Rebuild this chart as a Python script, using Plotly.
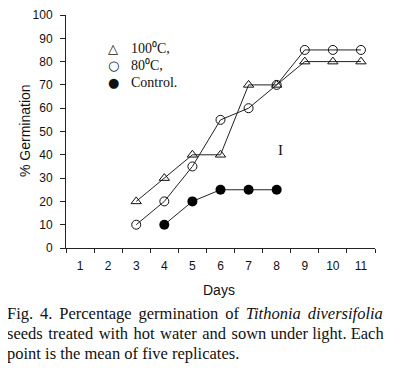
import plotly.graph_objects as go

days = ["1", "2", "3", "4", "5", "6", "7", "8", "9", "10", "11"]

days_100 = ["3", "4", "5", "6", "7", "8", "9", "10", "11"]
germ_100 = [20, 30, 40, 40, 70, 70, 80, 80, 80]

days_80 = ["3", "4", "5", "6", "7", "8", "9", "10", "11"]
germ_80 = [10, 20, 35, 55, 60, 70, 85, 85, 85]

days_ctrl = ["4", "5", "6", "7", "8"]
germ_ctrl = [10, 20, 25, 25, 25]

y_ticks = [0, 10, 20, 30, 40, 50, 60, 70, 80, 90, 100]

legend_symbols = ["\u25b3", "\u25cb", "\u25cf"]
legend_labels = ["100\u2070C,", "80\u2070C,", "Control."]

fig = go.Figure()

line_style = dict(color="#222222", width=1)

fig.add_trace(go.Scatter(
    x=days_100, y=germ_100, mode="lines+markers", showlegend=False,
    line=line_style,
    marker=dict(symbol="triangle-up-open", size=9, color="#111111", line=dict(width=1)),
))
fig.add_trace(go.Scatter(
    x=days_80, y=germ_80, mode="lines+markers", showlegend=False,
    line=line_style,
    marker=dict(symbol="circle-open", size=9, color="#111111", line=dict(width=1)),
))
fig.add_trace(go.Scatter(
    x=days_ctrl, y=germ_ctrl, mode="lines+markers", showlegend=False,
    line=line_style,
    marker=dict(symbol="circle", size=10, color="#000000"),
))

# page body has an 8px margin: work in window pixels, convert to figure pixels
OFF = 8
W, H = 401 - OFF, 369 - OFF
PL, PR, PT, PB = 66 - OFF, 375 - OFF, 15 - OFF, 248 - OFF

fig.update_layout(
    width=W, height=H,
    margin=dict(l=PL, r=W - PR, t=PT, b=H - PB, autoexpand=False),
    paper_bgcolor="white", plot_bgcolor="white",
    showlegend=False,
    font=dict(family="Liberation Sans, Arial, sans-serif", size=12, color="#111111"),
    xaxis=dict(
        type="category", categoryorder="array", categoryarray=days,
        range=[-0.5, 10.5], automargin=False,
        showline=True, linecolor="#222222", linewidth=1,
        ticks="outside", ticklen=4, tickcolor="#222222", tickson="boundaries",
        showgrid=False, zeroline=False,
        tickfont=dict(family="Liberation Sans, Arial, sans-serif", size=12),
        ticklabelstandoff=7,
    ),
    yaxis=dict(
        range=[0, 100], tickvals=y_ticks, automargin=False,
        showline=True, linecolor="#222222", linewidth=1,
        ticks="outside", ticklen=5, tickcolor="#222222",
        showgrid=False, zeroline=False,
        tickfont=dict(family="Liberation Sans, Arial, sans-serif", size=12),
        ticklabelstandoff=5,
    ),
)

serif = "Liberation Serif, Times New Roman, serif"
sans = "Liberation Sans, Arial, sans-serif"


def px_x(x):
    # x given in window pixels
    return (x - OFF - PL) / (PR - PL)


def px_y(y):
    return (PB - (y - OFF)) / (PB - PT)


annotations = [
    dict(text="% Germination", xref="paper", yref="paper", x=px_x(25), y=px_y(131),
         xanchor="center", yanchor="middle", textangle=-90, showarrow=False,
         font=dict(family=sans, size=14)),
    dict(text="Days", xref="paper", yref="paper", x=px_x(219), y=px_y(290),
         xanchor="center", yanchor="middle", showarrow=False,
         font=dict(family=sans, size=14)),
    dict(text="I", xref="paper", yref="paper", x=px_x(280), y=px_y(150),
         xanchor="center", yanchor="middle", showarrow=False,
         font=dict(family=serif, size=15)),
]

legend_rows = [49, 65, 82]
for sym, lab, ry in zip(legend_symbols, legend_labels, legend_rows):
    annotations.append(dict(text=sym, xref="paper", yref="paper", x=px_x(113), y=px_y(ry),
                            xanchor="center", yanchor="middle", showarrow=False,
                            font=dict(family="DejaVu Sans", size=13, color="#111111")))
    annotations.append(dict(text=lab, xref="paper", yref="paper", x=px_x(129), y=px_y(ry),
                            xanchor="left", yanchor="middle", showarrow=False,
                            font=dict(family=serif, size=14, color="#111111")))


def justify(txt, extra, n_gaps):
    words = txt.split(" ")
    out = words[0]
    for i, w in enumerate(words[1:]):
        out += (" " + extra if i < n_gaps else " ") + w
    return out


# caption lines; the first two are justified in the reference, so widen word gaps a little
caption = [
    (justify("Fig. 4. Percentage germination of <i>Tithonia diversifolia</i>", "\u200a\u200a", 6), 313),
    (justify("seeds treated with hot water and sown under light. Each", "\u200a", 6), 333),
    ("point is the mean of five replicates.", 353),
]
for txt, cy in caption:
    annotations.append(dict(text=txt, xref="paper", yref="paper", x=px_x(5), y=px_y(cy),
                            xanchor="left", yanchor="middle", showarrow=False,
                            font=dict(family=serif, size=16.5, color="#111111")))

fig.update_layout(annotations=annotations)

fig.write_html("out.html")
